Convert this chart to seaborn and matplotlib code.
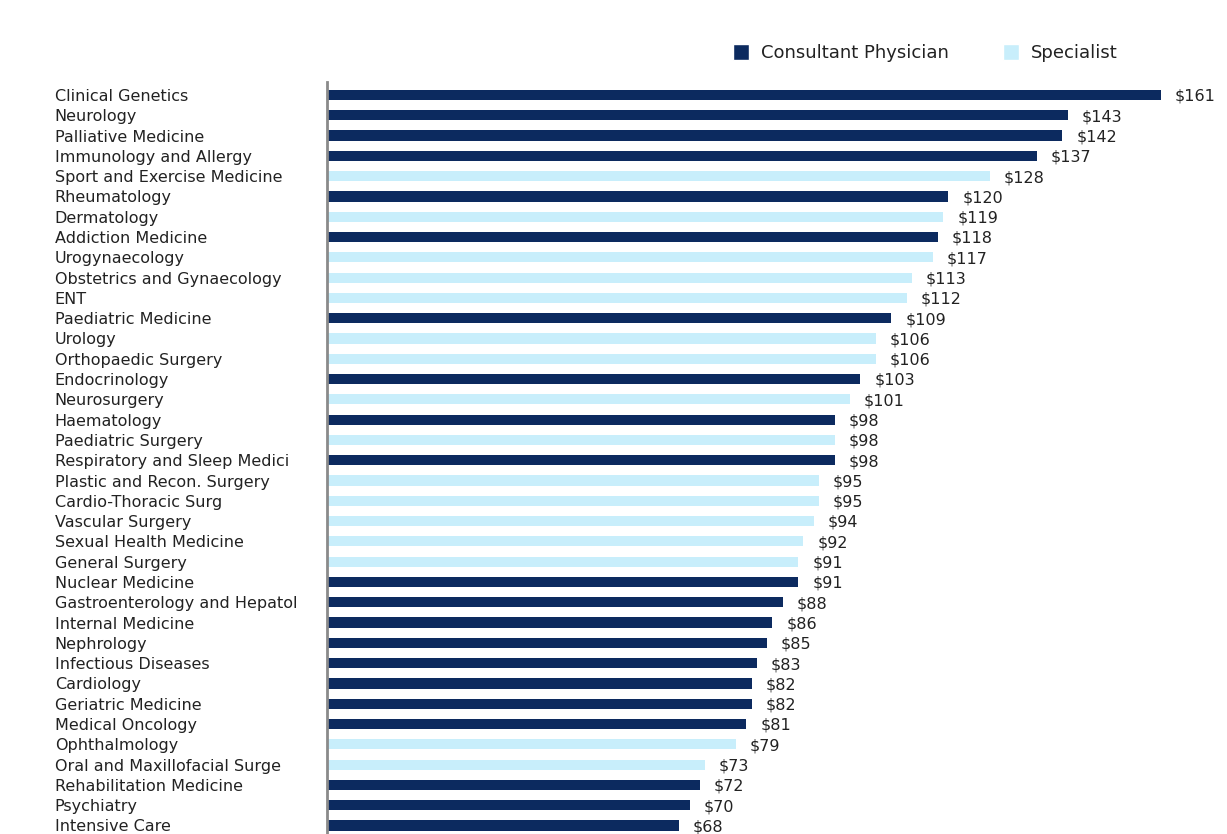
import matplotlib
matplotlib.use("Agg")
import matplotlib.pyplot as plt
import seaborn as sns
import pandas as pd
from matplotlib.patches import Patch

specialties = [
    "Clinical Genetics", "Neurology", "Palliative Medicine", "Immunology and Allergy",
    "Sport and Exercise Medicine", "Rheumatology", "Dermatology", "Addiction Medicine",
    "Urogynaecology", "Obstetrics and Gynaecology", "ENT", "Paediatric Medicine",
    "Urology", "Orthopaedic Surgery", "Endocrinology", "Neurosurgery", "Haematology",
    "Paediatric Surgery", "Respiratory and Sleep Medici", "Plastic and Recon. Surgery",
    "Cardio-Thoracic Surg", "Vascular Surgery", "Sexual Health Medicine",
    "General Surgery", "Nuclear Medicine", "Gastroenterology and Hepatol",
    "Internal Medicine", "Nephrology", "Infectious Diseases", "Cardiology",
    "Geriatric Medicine", "Medical Oncology", "Ophthalmology",
    "Oral and Maxillofacial Surge", "Rehabilitation Medicine", "Psychiatry",
    "Intensive Care",
]
values = [161, 143, 142, 137, 128, 120, 119, 118, 117, 113, 112, 109, 106, 106, 103,
          101, 98, 98, 98, 95, 95, 94, 92, 91, 91, 88, 86, 85, 83, 82, 82, 81, 79,
          73, 72, 70, 68]
CP, SP = "Consultant Physician", "Specialist"
types = [CP, CP, CP, CP, SP, CP, SP, CP, SP, SP, SP, CP, SP, SP, CP, SP, CP, SP, CP,
         SP, SP, SP, SP, SP, CP, CP, CP, CP, CP, CP, CP, CP, SP, SP, CP, CP, CP]

navy = "#0c2a5f"
light = "#c8eefb"
palette = {CP: navy, SP: light}

df = pd.DataFrame({"specialty": specialties, "value": values, "type": types})

sns.set_theme(style="white")
plt.rcParams["font.family"] = ["DejaVu Sans"]

fig = plt.figure(figsize=(12.27, 8.34), dpi=100)
W, H = 1227, 834
ax = fig.add_axes([327 / W, 0, (1210 - 327) / W, (834 - 82) / H])

sns.barplot(data=df, y="specialty", x="value", hue="type", palette=palette,
            order=specialties, dodge=False, width=0.5, legend=False, ax=ax,
            saturation=1, edgecolor="none")

ax.set_xlim(0, 170.5)
ax.set_ylim(36.42, -0.64)
ax.set_xlabel("")
ax.set_ylabel("")
ax.set_xticks([])
for s in ["top", "right", "bottom"]:
    ax.spines[s].set_visible(False)
ax.spines["left"].set_color("#8a8a8a")
ax.spines["left"].set_linewidth(2)

ax.tick_params(axis="y", length=0, pad=196, labelsize=11.5, labelcolor="#222222")
for lab in ax.get_yticklabels():
    lab.set_horizontalalignment("left")

for i, v in enumerate(values):
    ax.annotate(f"${v}", xy=(v, i), xytext=(10, -1), textcoords="offset points",
                va="center", ha="left", fontsize=11.5, color="#222222")

handles = [Patch(facecolor=navy, label=CP), Patch(facecolor=light, label=SP)]
fig.legend(handles=handles, loc="center right", bbox_to_anchor=(1127 / W, 1 - 53 / H),
           ncol=2, frameon=False, fontsize=13, handlelength=0.85, handleheight=1.0,
           handletextpad=0.7, columnspacing=3.0, labelcolor="#222222", borderpad=0)

fig.savefig("out.png", dpi=100)
